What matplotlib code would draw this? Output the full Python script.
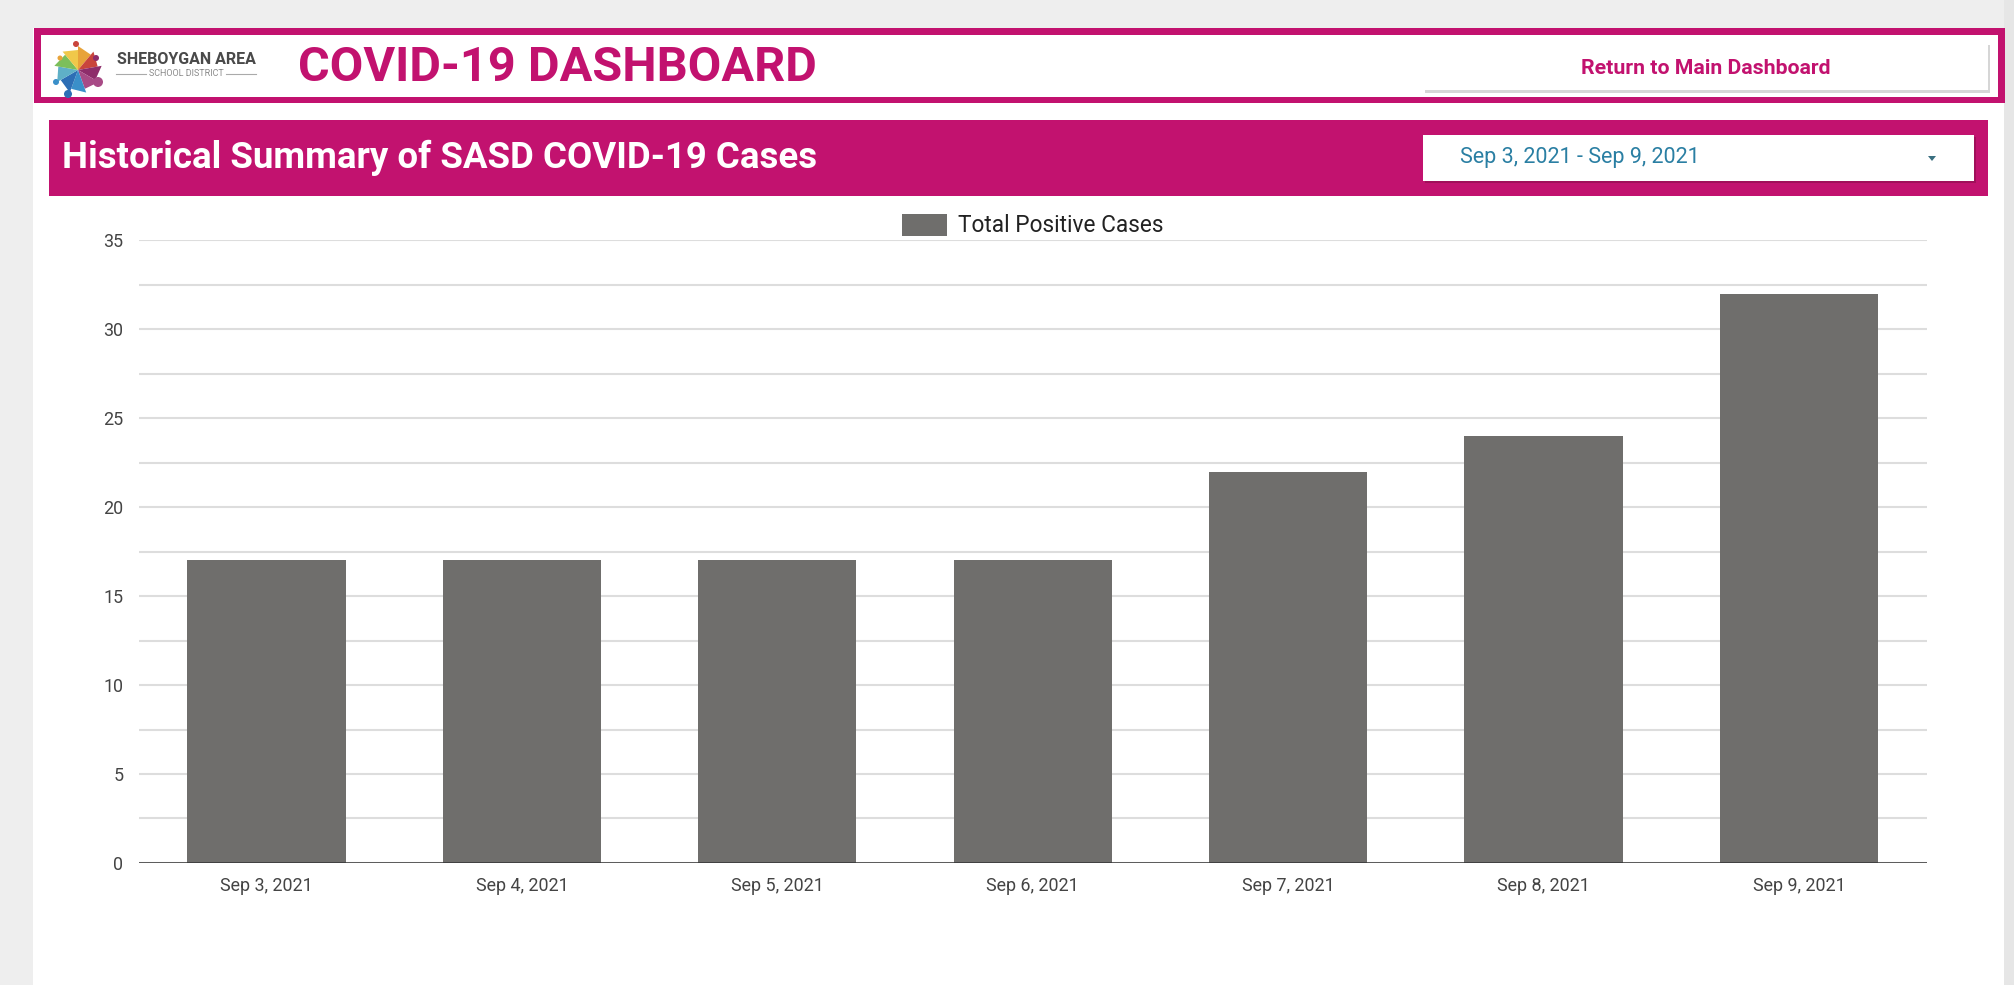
import matplotlib.pyplot as plt
from matplotlib.patches import Rectangle, Polygon, Circle
import numpy as np

plt.rcParams['font.family'] = ['Roboto', 'DejaVu Sans']

dates = ['Sep 3, 2021', 'Sep 4, 2021', 'Sep 5, 2021', 'Sep 6, 2021',
         'Sep 7, 2021', 'Sep 8, 2021', 'Sep 9, 2021']
cases = [17, 17, 17, 17, 22, 24, 32]
series_name = 'Total Positive Cases'
date_range = 'Sep 3, 2021 - Sep 9, 2021'

MAG = '#c2126f'
BAR = '#6f6e6c'
W, H = 2014, 985

fig = plt.figure(figsize=(W / 100, H / 100), dpi=100, facecolor='#eeeeee')

# page decoration in pixel coords
bg = fig.add_axes([0, 0, 1, 1], zorder=0)
bg.set_xlim(0, W)
bg.set_ylim(H, 0)
bg.axis('off')

bg.add_patch(Rectangle((33, 28), 2004 - 33, H - 28, fc='white', ec='none'))
bg.add_patch(Rectangle((2004, 0), 10, H, fc='#e6e6e6', ec='none'))

# header box
bg.add_patch(Rectangle((34, 28), 2005 - 34, 103 - 28, fc=MAG, ec='none'))
bg.add_patch(Rectangle((41, 35), 1957, 62, fc='white', ec='none'))

# logo: a star of coloured wedges
cx, cy = 78, 70
cols = ['#e8a33a', '#c9453c', '#8e2d6b', '#a84a86', '#3a8fc9', '#2d6eb5', '#5fb0c7', '#7cbf5a', '#f0c84a']
for i, c in enumerate(cols):
    a0 = np.deg2rad(i * 40 - 90)
    a1 = np.deg2rad(i * 40 - 90 + 40)
    pts = [(cx, cy), (cx + 24 * np.cos(a0), cy + 24 * np.sin(a0)), (cx + 20 * np.cos(a1), cy + 20 * np.sin(a1))]
    bg.add_patch(Polygon(pts, fc=c, ec='none'))
for (dx, dy, r, c) in [(-22, 12, 3, '#3a8fc9'), (-10, 24, 4, '#2d6eb5'), (20, 12, 5, '#a84a86'),
                       (18, -12, 3, '#8e2d6b'), (-2, -26, 3, '#c9453c'), (-18, -12, 2.5, '#e8a33a')]:
    bg.add_patch(Circle((cx + dx, cy + dy), r, fc=c, ec='none'))

bg.text(186, 60, 'SHEBOYGAN AREA', fontsize=11.5, fontweight='bold', color='#4a4a4a',
        ha='center', va='center')
bg.text(186, 74, 'SCHOOL DISTRICT', fontsize=6.5, color='#8a8a8a', ha='center', va='center')
bg.plot([116, 146], [74, 74], color='#aaaaaa', lw=0.8)
bg.plot([226, 256], [74, 74], color='#aaaaaa', lw=0.8)

bg.text(298, 68, 'COVID-19 DASHBOARD', fontsize=35, fontweight='bold', color=MAG,
        ha='left', va='center')

# return button
bg.add_patch(Rectangle((1425, 45), 565, 48, fc='#bbbbbb', ec='none', alpha=0.6))
bg.add_patch(Rectangle((1423, 42), 565, 48, fc='white', ec='none'))
bg.text(1706, 68, 'Return to Main Dashboard', fontsize=15.3, fontweight='bold', color=MAG,
        ha='center', va='center')

# section bar
bg.add_patch(Rectangle((49, 120), 1988 - 49, 76, fc=MAG, ec='none'))
bg.text(62, 158, 'Historical Summary of SASD COVID-19 Cases', fontsize=26.4, fontweight='bold',
        color='white', ha='left', va='center')
bg.add_patch(Rectangle((1425, 137), 551, 46, fc='#8a0d4d', ec='none', alpha=0.6))
bg.add_patch(Rectangle((1423, 135), 551, 46, fc='white', ec='none'))
bg.text(1460, 158, date_range, fontsize=15.5, color='#2a7fa3', ha='left', va='center')
bg.add_patch(Polygon([(1928, 156), (1936, 156), (1932, 161)], fc='#3a6f80', ec='none'))

# chart
ax = fig.add_axes([0.0689, 0.1239, 0.8877, 0.6322], zorder=1)
ax.patch.set_alpha(0)
x = np.arange(len(dates))
ax.bar(x, cases, width=0.62, color=BAR, label=series_name, zorder=2)
ax.set_xlim(-0.5, len(dates) - 0.5)
ax.set_ylim(0, 35)
ax.set_yticks(np.arange(0, 36, 5))
ax.set_yticks(np.arange(2.5, 35, 5), minor=True)
ax.grid(axis='y', which='both', color='#dddddd', lw=1.5, zorder=0)
ax.axhline(0, color='#333333', lw=1.8, zorder=3)
ax.set_xticks(x)
ax.set_xticklabels(dates)
ax.tick_params(axis='both', which='both', length=0, labelsize=12.9, labelcolor='#444444')
ax.tick_params(axis='y', pad=11)
ax.tick_params(axis='x', pad=10)
for s in ax.spines.values():
    s.set_visible(False)

ax.legend(loc='lower center', bbox_to_anchor=(0.5, 0.99), frameon=False, fontsize=16.3,
          handlelength=2.0, handleheight=1.1, handletextpad=0.5, borderaxespad=0,
          labelcolor='#222222')

fig.savefig('out.png', dpi=100, facecolor=fig.get_facecolor())
